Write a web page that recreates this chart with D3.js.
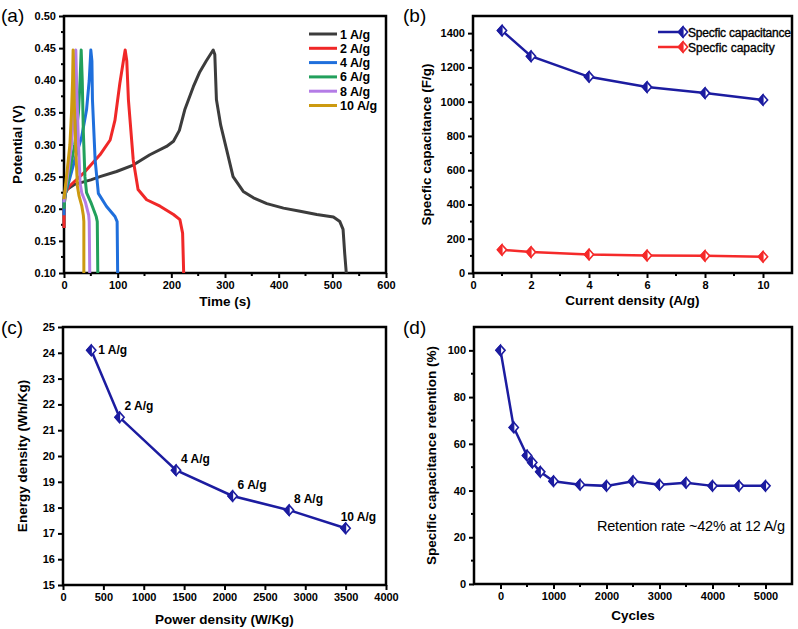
<!DOCTYPE html>
<html><head><meta charset="utf-8">
<script src="https://cdn.jsdelivr.net/npm/d3@7"></script>
<style>
body{margin:0;background:#fff;}
svg{display:block;}
text{font-family:"Liberation Sans",Arial,sans-serif;}
</style></head>
<body>
<svg id="c" width="798" height="629"></svg>
<script>
// ---------- DATA ----------
// (a) GCD curves
const gcdLabels = ["1 A/g","2 A/g","4 A/g","6 A/g","8 A/g","10 A/g"];
const gcdColors = ["#3c3c3c","#f02828","#1f6fdc","#22a05c","#b47ce6","#cc9a10"];
const gcdT1 = [0,0,2,20,50,67,98,129,160,191,204,215,225,241,253,265,278,281,284,292,303,315,334,353,378,409,440,471,502,514,520,523,526];
const gcdV1 = [0.17,0.215,0.228,0.238,0.245,0.25,0.258,0.268,0.284,0.297,0.305,0.322,0.354,0.39,0.413,0.43,0.447,0.44,0.37,0.33,0.292,0.25,0.227,0.217,0.208,0.201,0.196,0.191,0.187,0.18,0.168,0.131,0.10];
const gcdT2 = [0,0,3,10,36,67,86,95,104,111,114,117,120,129,138,154,179,204,216,221,223];
const gcdV2 = [0.17,0.205,0.225,0.235,0.255,0.284,0.307,0.338,0.395,0.432,0.447,0.43,0.37,0.276,0.23,0.214,0.204,0.191,0.183,0.162,0.10];
const gcdT4 = [0,0,2,10,20,33,42,47,50,52,53,58,64,79,95,99,100];
const gcdV4 = [0.19,0.21,0.222,0.245,0.276,0.312,0.354,0.40,0.447,0.43,0.37,0.276,0.224,0.204,0.188,0.18,0.10];
const gcdT6 = [0,2,10,20,27,30,32,34,36,39,42,50,60,62,63];
const gcdV6 = [0.20,0.22,0.255,0.30,0.35,0.40,0.447,0.40,0.32,0.25,0.225,0.21,0.188,0.18,0.10];
const gcdT8 = [0,2,8,14,18,20,22,24,27,30,33,40,46,47,48];
const gcdV8 = [0.21,0.225,0.26,0.30,0.35,0.40,0.447,0.38,0.30,0.24,0.225,0.21,0.19,0.18,0.10];
const gcdT10 = [0,2,6,11,14,16,17,19,22,25,28,33,36,37,37];
const gcdV10 = [0.215,0.23,0.26,0.30,0.35,0.40,0.447,0.37,0.29,0.235,0.22,0.205,0.19,0.18,0.10];

// (b) rate performance
const currentDensity = [1,2,4,6,8,10];
const specCapacitance = [1415,1265,1145,1085,1050,1010];
const specCapacity = [135,122,108,102,100,95];

// (c) Ragone
const powerDensity = [350,700,1400,2100,2800,3500];
const energyDensity = [24.1,21.5,19.45,18.45,17.9,17.2];
const ragoneLabels = ["1 A/g","2 A/g","4 A/g","6 A/g","8 A/g","10 A/g"];

// (d) cycling
const cycles = [0,250,500,600,750,1000,1500,2000,2500,3000,3500,4000,4500,5000];
const retention = [100,67,55,52,48,44,42.5,42,44,42.5,43.3,42,42,42];

// ---------- DRAW ----------
const svg = d3.select("#c");
const NAVY = "#1c1ca0", RED = "#f52a2a";

function panel(o){
  const x = d3.scaleLinear().domain(o.xd).range([o.l,o.r]);
  const y = d3.scaleLinear().domain(o.yd).range([o.b,o.t]);
  const g = svg.append("g");
  g.append("g").selectAll("line").data(o.xminor).join("line")
    .attr("x1",d=>x(d)).attr("x2",d=>x(d)).attr("y1",o.b).attr("y2",o.b+3)
    .attr("stroke","#000").attr("stroke-width",2);
  g.append("g").selectAll("line").data(o.yminor).join("line")
    .attr("y1",d=>y(d)).attr("y2",d=>y(d)).attr("x1",o.l).attr("x2",o.l-3)
    .attr("stroke","#000").attr("stroke-width",2);
  const ax = g.append("g").attr("transform",`translate(0,${o.b})`)
    .call(d3.axisBottom(x).tickValues(o.xticks).tickFormat(o.xf||d3.format("d")).tickSize(5).tickSizeOuter(0).tickPadding(3));
  const ay = g.append("g").attr("transform",`translate(${o.l},0)`)
    .call(d3.axisLeft(y).tickValues(o.yticks).tickFormat(o.yf||d3.format("d")).tickSize(5).tickSizeOuter(0).tickPadding(3));
  [ax,ay].forEach(a=>{
    a.select(".domain").remove();
    a.selectAll(".tick line").attr("stroke","#000").attr("stroke-width",2);
    a.selectAll(".tick text").attr("font-size",11).attr("font-weight","bold").attr("fill","#000")
      .attr("font-family","'Liberation Sans',Arial,sans-serif");
  });
  g.append("rect").attr("x",o.l).attr("y",o.t).attr("width",o.r-o.l).attr("height",o.b-o.t)
    .attr("fill","none").attr("stroke","#000").attr("stroke-width",2.5);
  g.append("text").attr("x",(o.l+o.r)/2).attr("y",o.xty).attr("text-anchor","middle")
    .attr("font-size",13.5).attr("font-weight","bold").text(o.xt);
  g.append("text").attr("transform",`translate(${o.ytx},${(o.t+o.b)/2}) rotate(-90)`)
    .attr("text-anchor","middle").attr("font-size",13.5).attr("font-weight","bold").text(o.yt);
  g.append("text").attr("x",o.px).attr("y",o.py).attr("font-size",19).text(o.pl);
  return {x,y,g};
}

function diamondAt(g,p,color){
  const s = 4.6, h = 5.2;
  g.append("path").attr("d",`M${p[0]},${p[1]-h}L${p[0]+s},${p[1]}L${p[0]},${p[1]+h}L${p[0]-s},${p[1]}Z`)
    .attr("fill","#fff").attr("stroke",color).attr("stroke-width",1.6);
  g.append("path").attr("d",`M${p[0]},${p[1]-h}L${p[0]},${p[1]+h}L${p[0]-s},${p[1]}Z`)
    .attr("fill",color).attr("stroke",color).attr("stroke-width",1.2);
}
function diamonds(g, xs, ys, x, y, color){
  const mg = g.append("g");
  xs.forEach((d,i)=>diamondAt(mg,[x(d),y(ys[i])],color));
}

function seq(a,b,s){const r=[];for(let v=a;v<=b+1e-9;v+=s)r.push(+v.toFixed(4));return r;}

// ----- (a)
const A = panel({l:64,r:386,t:16,b:273,xd:[0,600],yd:[0.10,0.50],
  xticks:seq(0,600,100),yticks:seq(0.10,0.50,0.05),xminor:seq(50,550,100),yminor:seq(0.125,0.475,0.05),
  yf:d3.format(".2f"),xt:"Time (s)",xty:306,yt:"Potential (V)",ytx:22,pl:"(a)",px:1,py:22});
const gcdTs=[gcdT1,gcdT2,gcdT4,gcdT6,gcdT8,gcdT10], gcdVs=[gcdV1,gcdV2,gcdV4,gcdV6,gcdV8,gcdV10];
const lineA = d3.line().x(d=>A.x(d[0])).y(d=>A.y(d[1]));
gcdTs.forEach((ts,i)=>{
  A.g.append("path").datum(ts.map((t,j)=>[t,gcdVs[i][j]])).attr("d",lineA)
    .attr("fill","none").attr("stroke",gcdColors[i]).attr("stroke-width",3).attr("stroke-linejoin","round");
});
gcdLabels.forEach((lab,i)=>{
  const yy = 34 + i*14.3;
  A.g.append("line").attr("x1",309).attr("x2",337).attr("y1",yy).attr("y2",yy)
    .attr("stroke",gcdColors[i]).attr("stroke-width",3);
  A.g.append("text").attr("x",340).attr("y",yy+4.5).attr("font-size",12.5).attr("font-weight","bold").text(lab);
});

// ----- (b)
const B = panel({l:473,r:792,t:16,b:273,xd:[0,11],yd:[0,1500],
  xticks:seq(0,10,2),yticks:seq(0,1400,200),xminor:seq(1,9,2),yminor:seq(100,1300,200),
  xt:"Current density (A/g)",xty:305,yt:"Specfic capacitance (F/g)",ytx:431,pl:"(b)",px:403,py:22});
const lineB = d3.line().x(d=>B.x(d[0])).y(d=>B.y(d[1]));
B.g.append("path").datum(currentDensity.map((c,i)=>[c,specCapacity[i]])).attr("d",lineB)
  .attr("fill","none").attr("stroke",RED).attr("stroke-width",2.5);
diamonds(B.g,currentDensity,specCapacity,B.x,B.y,RED);
B.g.append("path").datum(currentDensity.map((c,i)=>[c,specCapacitance[i]])).attr("d",lineB)
  .attr("fill","none").attr("stroke",NAVY).attr("stroke-width",2.5);
diamonds(B.g,currentDensity,specCapacitance,B.x,B.y,NAVY);
[["Specfic capacitance",NAVY,32],["Specfic capacity",RED,47]].forEach(([t,c,yy])=>{
  B.g.append("line").attr("x1",658).attr("x2",684).attr("y1",yy).attr("y2",yy).attr("stroke",c).attr("stroke-width",2.5);
  diamondAt(B.g,[683,yy],c);
  B.g.append("text").attr("x",688).attr("y",yy+4.5).attr("font-size",12).attr("fill","#000")
    .attr("stroke","#000").attr("stroke-width",0.35).attr("textLength", t.length>17?103:null).text(t);
});

// ----- (c)
const C = panel({l:63,r:386,t:327,b:585,xd:[0,4000],yd:[15,25],
  xticks:seq(0,4000,500),yticks:seq(15,25,1),xminor:[],yminor:[],
  xt:"Power density (W/Kg)",xty:624,yt:"Energy density (Wh/Kg)",ytx:27,pl:"(c)",px:1,py:334});
const lineC = d3.line().x(d=>C.x(d[0])).y(d=>C.y(d[1]));
C.g.append("path").datum(powerDensity.map((p,i)=>[p,energyDensity[i]])).attr("d",lineC)
  .attr("fill","none").attr("stroke",NAVY).attr("stroke-width",2.5);
diamonds(C.g,powerDensity,energyDensity,C.x,C.y,NAVY);
ragoneLabels.forEach((lab,i)=>{
  const dx = i===0?7:(i===5?-5:5), dy = i===0?4:-7;
  C.g.append("text").attr("x",C.x(powerDensity[i])+dx).attr("y",C.y(energyDensity[i])+dy)
    .attr("font-size",12).attr("font-weight","bold").text(lab);
});

// ----- (d)
const D = panel({l:474,r:792,t:327,b:584,xd:[-500,5500],yd:[0,110],
  xticks:seq(0,5000,1000),yticks:seq(0,100,20),xminor:seq(500,4500,1000),yminor:seq(10,90,20),
  xt:"Cycles",xty:620,yt:"Specific capacitance retention (%)",ytx:436,pl:"(d)",px:403,py:334});
const lineD = d3.line().x(d=>D.x(d[0])).y(d=>D.y(d[1]));
D.g.append("path").datum(cycles.map((c,i)=>[c,retention[i]])).attr("d",lineD)
  .attr("fill","none").attr("stroke",NAVY).attr("stroke-width",2.5);
diamonds(D.g,cycles,retention,D.x,D.y,NAVY);
D.g.append("text").attr("x",597).attr("y",531).attr("font-size",14.5).attr("textLength",188).text("Retention rate ~42%  at 12 A/g");
</script>
</body></html>
